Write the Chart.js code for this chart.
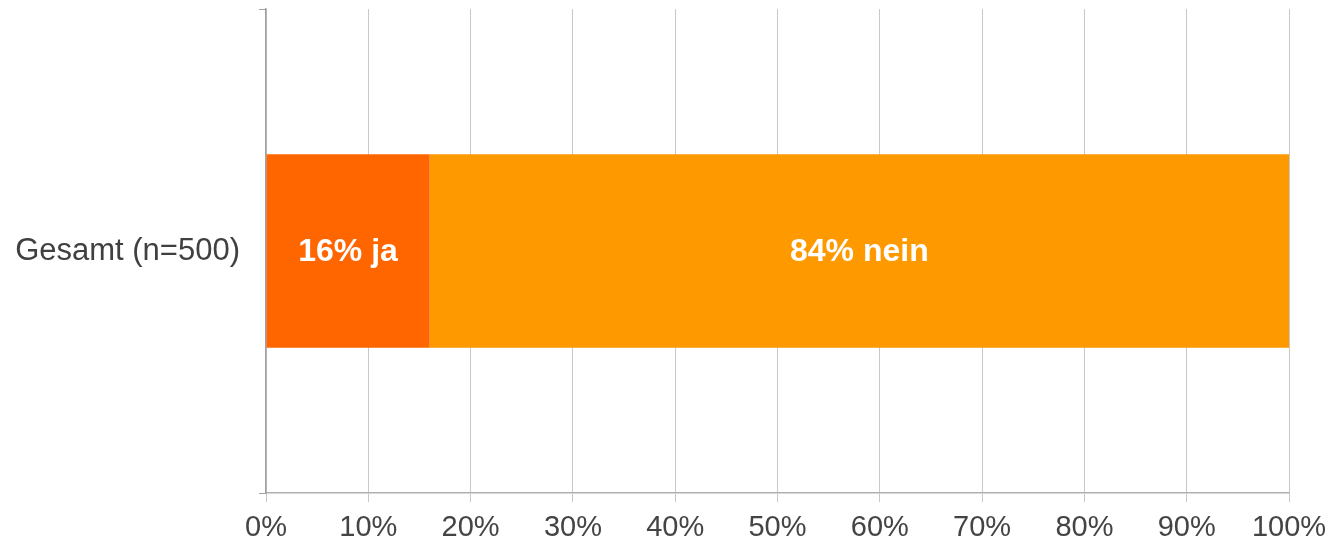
<!DOCTYPE html>
<html>
<head>
<meta charset="utf-8">
<script src="https://cdn.jsdelivr.net/npm/chart.js@4/dist/chart.umd.min.js"></script>
<style>
  body { margin: 0; background: #fff; }
  #wrap { width: 1331px; height: 545px; }
</style>
</head>
<body>
<div id="wrap"><canvas id="bar-chartcanvas"></canvas></div>
<script>
// categories and values
var categories = ['Gesamt (n=500)'];
var seriesNames = ['ja', 'nein'];
var jaValues = [16];
var neinValues = [84];
var seriesColors = ['#ff6600', '#ff9900'];
var xTicks = [0, 10, 20, 30, 40, 50, 60, 70, 80, 90, 100];

// draws "16% ja" etc. in the middle of each bar piece
var barLabels = {
    id: 'barLabels',
    afterDatasetsDraw: function(chart) {
        var ctx = chart.ctx;
        ctx.save();
        ctx.fillStyle = '#ffffff';
        ctx.font = 'bold 32px "Liberation Sans", Arial, sans-serif';
        ctx.textAlign = 'center';
        ctx.textBaseline = 'middle';
        chart.data.datasets.forEach(function(ds, i) {
            chart.getDatasetMeta(i).data.forEach(function(bar, j) {
                var p = bar.getProps(['x', 'y', 'base'], true);
                ctx.fillText(ds.data[j] + '% ' + ds.label, (p.x + p.base) / 2, p.y + 1);
            });
        });
        ctx.restore();
    }
};

var ctx = document.getElementById('bar-chartcanvas');

var chart = new Chart(ctx, {
    type: 'bar',
    data: {
        labels: categories,
        datasets: [
            { label: seriesNames[0], data: jaValues, backgroundColor: seriesColors[0] },
            { label: seriesNames[1], data: neinValues, backgroundColor: seriesColors[1] }
        ]
    },
    options: {
        indexAxis: 'y',
        responsive: true,
        maintainAspectRatio: false,
        animation: false,
        layout: { autoPadding: false, padding: { top: 9, right: 42, left: 0, bottom: 0 } },
        datasets: { bar: { barPercentage: 0.4, categoryPercentage: 1.0 } },
        plugins: {
            legend: { display: false },
            tooltip: { enabled: false }
        },
        scales: {
            x: {
                stacked: true,
                min: 0,
                max: 100,
                afterBuildTicks: function(scale) {
                    scale.ticks = xTicks.map(function(v) { return { value: v }; });
                },
                afterFit: function(scale) {
                    scale.height = 52;
                    scale.paddingLeft = 0;
                    scale.paddingRight = 0;
                },
                grid: { color: '#c8c8c8', lineWidth: 1, tickLength: 9 },
                border: { color: '#b0b0b0', width: 1.5 },
                ticks: {
                    padding: 9,
                    color: '#444444',
                    font: { size: 29, family: '"Liberation Sans", Arial, sans-serif' },
                    maxRotation: 0,
                    callback: function(v) { return v + '%'; }
                }
            },
            y: {
                stacked: true,
                afterFit: function(scale) {
                    scale.width = 266;
                    scale.paddingTop = 0;
                    scale.paddingBottom = 0;
                },
                grid: { drawOnChartArea: false, color: '#a0a0a0', tickLength: 7, offset: true },
                border: { color: '#a0a0a0', width: 1.5 },
                ticks: {
                    padding: 19,
                    color: '#404040',
                    font: { size: 31, family: '"Liberation Sans", Arial, sans-serif' }
                }
            }
        }
    },
    plugins: [barLabels]
});
</script>
</body>
</html>
